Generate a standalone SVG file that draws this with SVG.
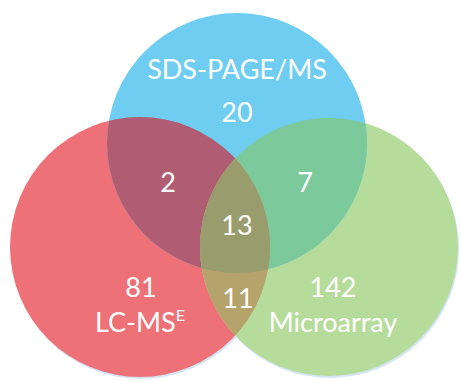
<svg xmlns="http://www.w3.org/2000/svg" width="461" height="381" viewBox="0 0 461 381">
<style>
.lbl{fill:#ffffff;font-family:Lato,"Open Sans","Liberation Sans",sans-serif;font-size:27px;text-anchor:middle}
</style>
<defs>
<clipPath id="cRed"><circle cx="140" cy="247" r="130"/></clipPath>
<clipPath id="cGreen"><circle cx="329" cy="247" r="129"/></clipPath>
<clipPath id="cBlue"><circle cx="237" cy="143" r="130"/></clipPath>
</defs>
<rect width="461" height="381" fill="#ffffff"/>
<g id="shadows" fill="#d3e5f4">
<circle cx="141" cy="249" r="130"/>
<circle cx="330" cy="249" r="129"/>
</g>
<g id="lcms">
<circle cx="140" cy="247" r="130" fill="#ee7177"/>
</g>
<g id="microarray">
<circle cx="329" cy="247" r="129" fill="#b6dc9c"/>
</g>
<g id="sdspage">
<circle cx="237" cy="143" r="130" fill="#6ecdf1"/>
</g>
<g id="overlaps">
<g clip-path="url(#cRed)"><circle cx="237" cy="143" r="130" fill="#b05c72"/></g>
<g clip-path="url(#cGreen)"><circle cx="237" cy="143" r="130" fill="#7cc99c"/></g>
<g clip-path="url(#cRed)"><circle cx="329" cy="247" r="129" fill="#b4a46b"/></g>
<g clip-path="url(#cRed)"><g clip-path="url(#cGreen)"><circle cx="237" cy="143" r="130" fill="#999c6c"/></g></g>
</g>
<g id="labels">
<text class="lbl" x="237" y="79">SDS-PAGE/MS</text>
<text class="lbl" x="237" y="122">20</text>
<text class="lbl" x="168" y="192">2</text>
<text class="lbl" x="305" y="192">7</text>
<text class="lbl" x="237" y="235">13</text>
<text class="lbl" x="141" y="297">81</text>
<text class="lbl" x="238" y="308">11</text>
<text class="lbl" x="333" y="297">142</text>
<text class="lbl" x="140" y="332">LC-MS<tspan font-size="16" dy="-11">E</tspan></text>
<text class="lbl" x="333" y="332">Microarray</text>
</g>
</svg>
